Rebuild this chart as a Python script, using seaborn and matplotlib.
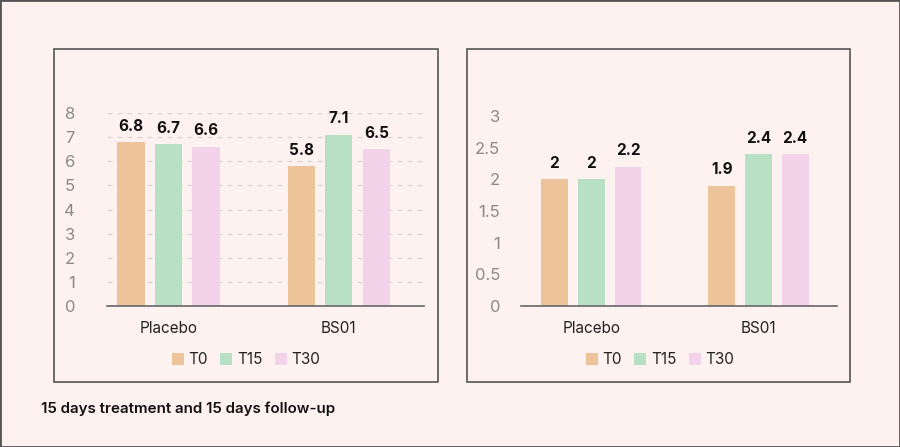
import matplotlib
matplotlib.use("Agg")
import matplotlib.pyplot as plt
from matplotlib.patches import Rectangle
import seaborn as sns
import pandas as pd

# values
groups = ["Placebo", "BS01"]
times = ["T0", "T15", "T30"]
left_vals = {"T0": [6.8, 5.8], "T15": [6.7, 7.1], "T30": [6.6, 6.5]}
right_vals = {"T0": [2, 1.9], "T15": [2, 2.4], "T30": [2.2, 2.4]}
left_ticks = [0, 1, 2, 3, 4, 5, 6, 7, 8]
right_ticks = [0, 0.5, 1, 1.5, 2, 2.5, 3]
caption = "15 days treatment and 15 days follow-up"

colors = ["#EDC399", "#B8E0C4", "#F2D3EA"]
bg = "#FDF2F0"


def to_long(vals):
    rows = []
    for t in times:
        for g, v in zip(groups, vals[t]):
            rows.append({"group": g, "time": t, "value": v})
    return pd.DataFrame(rows)


sns.set_theme(style="white")
plt.rcParams["font.family"] = ["Inter", "DejaVu Sans"]

W, H = 900, 447
fig = plt.figure(figsize=(9, 4.47), dpi=100, facecolor=bg)


def px_axes(x0, x1, y_top, y_bot):
    return fig.add_axes([x0 / W, 1 - y_bot / H, (x1 - x0) / W, (y_bot - y_top) / H])


def draw_panel(ax, vals, ticks, grid, xlim, ypad):
    df = to_long(vals)
    sns.barplot(data=df, x="group", y="value", hue="time", order=groups,
                hue_order=times, palette=colors, width=0.66, gap=0.27,
                saturation=1, linewidth=0, ax=ax, legend=False)
    ax.set_facecolor(bg)
    for c in ax.containers:
        ax.bar_label(c, labels=[f"{v:g}" for v in c.datavalues], padding=6,
                     fontsize=11, fontweight="bold", color="#111111")
    ax.set_ylim(ticks[0], ticks[-1])
    ax.set_yticks(ticks)
    ax.set_yticklabels([f"{t:g}" for t in ticks])
    ax.set_xlim(*xlim)
    ax.set_xlabel("")
    ax.set_ylabel("")
    for s in ["top", "right", "left"]:
        ax.spines[s].set_visible(False)
    ax.spines["bottom"].set_color("#666666")
    ax.spines["bottom"].set_linewidth(1.2)
    ax.tick_params(axis="y", length=0, labelsize=12, labelcolor="#8a8a8a", pad=ypad)
    ax.tick_params(axis="x", length=0, labelsize=11, labelcolor="#222222", pad=11)
    if grid:
        ax.yaxis.grid(True, linestyle=(0, (4, 4)), color="#d9d4d3", linewidth=0.9)
        ax.set_axisbelow(True)
    ax.patch.set_alpha(0)


ax1 = px_axes(107, 424, 113, 306)
draw_panel(ax1, left_vals, left_ticks, True, (-0.36, 1.5), 23)
ax2 = px_axes(521, 837, 116, 306)
draw_panel(ax2, right_vals, right_ticks, False, (-0.42, 1.47), 15)

# panel frames and outer frame
for x0, x1 in [(54, 438), (467, 850)]:
    fig.add_artist(Rectangle((x0 / W, 1 - 382 / H), (x1 - x0) / W, (382 - 49) / H,
                             transform=fig.transFigure, fill=False,
                             edgecolor="#555555", linewidth=1.2, zorder=0))
fig.add_artist(Rectangle((0, 0), 1, 1, transform=fig.transFigure, fill=False,
                         edgecolor="#555555", linewidth=2))

# legends centred on each panel
handles = [Rectangle((0, 0), 1, 1, facecolor=c, edgecolor="none") for c in colors]
for cx in [246, 660]:
    fig.legend(handles, times, loc="center", bbox_to_anchor=(cx / W, 1 - 360 / H),
               ncol=3, frameon=False, fontsize=11, handlelength=0.8,
               handleheight=0.8, handletextpad=0.3, columnspacing=0.8,
               labelcolor="#222222")

fig.text(41 / W, 1 - 409 / H, caption, fontsize=10.9, fontweight="semibold",
         color="#111111", va="center", ha="left")

fig.savefig("out.png", dpi=100, facecolor=bg)
